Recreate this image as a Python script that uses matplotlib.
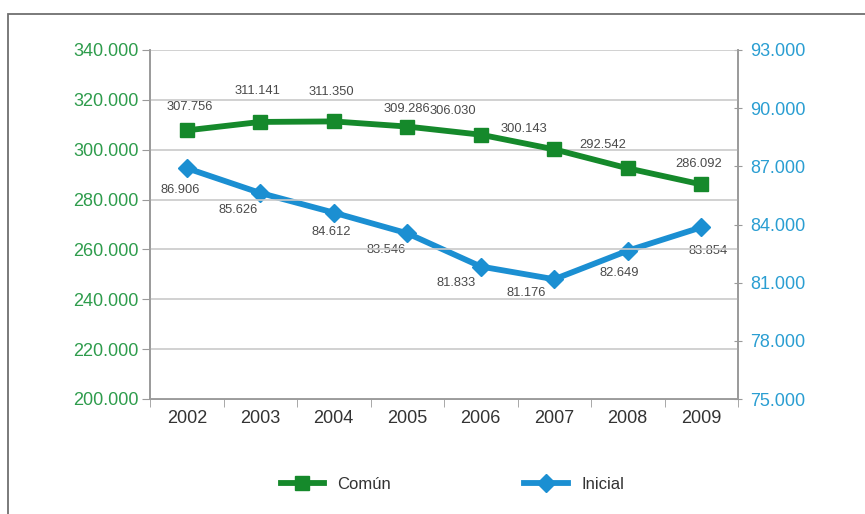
import matplotlib
matplotlib.use("Agg")
import matplotlib.pyplot as plt
from matplotlib.patches import Rectangle
from matplotlib.ticker import FuncFormatter, FixedLocator

plt.rcParams['font.family'] = ['Liberation Sans', 'DejaVu Sans']

years = ['2002', '2003', '2004', '2005', '2006', '2007', '2008', '2009']
comun = [307756, 311141, 311350, 309286, 306030, 300143, 292542, 286092]
inicial = [86906, 85626, 84612, 83546, 81833, 81176, 82649, 83854]

# label offsets (points) for each series
comun_off = [(2, 17), (-2, 22), (-2, 21), (0, 13), (-20, 17), (-22, 15), (-18, 17), (-2, 15)]
inicial_off = [(-5, -16), (-16, -12), (-2, -14), (-15, -12), (-18, -12), (-20, -10), (-6, -16), (5, -17)]

green = '#15892b'
green_txt = '#2e9c4c'
blue = '#1b8fd2'
blue_txt = '#2a9ed2'
gray = '#9a9a9a'


def fmt(v):
    return f'{v:,.0f}'.replace(',', '.')


fig = plt.figure(figsize=(8.65, 5.14), dpi=100)
fig.patches.append(Rectangle((8 / 865, -0.1), 1.2, 0.1 + 1 - 14 / 514,
                             transform=fig.transFigure, fill=False,
                             edgecolor='#6f6f6f', linewidth=1.3))

ax = fig.add_axes([150 / 865, 1 - 399 / 514, (738 - 150) / 865, (399 - 50) / 514])
ax2 = ax.twinx()

x = list(range(len(years)))
l1, = ax.plot(x, comun, color=green, linewidth=4.2, marker='s', markersize=9.5,
              label='Común', zorder=3)
l2, = ax2.plot(x, inicial, color=blue, linewidth=4.2, marker='D', markersize=9.5,
               label='Inicial', zorder=3)

for i, v in enumerate(comun):
    ax.annotate(fmt(v), (i, v), xytext=comun_off[i], textcoords='offset points',
                ha='center', va='center', fontsize=9.3, color='#4a4a4a')
for i, v in enumerate(inicial):
    ax2.annotate(fmt(v), (i, v), xytext=inicial_off[i], textcoords='offset points',
                 ha='center', va='center', fontsize=9.3, color='#4a4a4a')

ax.set_xlim(-0.5, len(years) - 0.5)
ax.set_ylim(200000, 340000)
ax.set_yticks(range(200000, 340001, 20000))
ax2.set_ylim(75000, 93000)
ax2.set_yticks(range(75000, 93001, 3000))

ax.yaxis.set_major_formatter(FuncFormatter(lambda v, p: fmt(v)))
ax2.yaxis.set_major_formatter(FuncFormatter(lambda v, p: fmt(v)))

ax.set_xticks(x)
ax.set_xticklabels(years)
ax.xaxis.set_minor_locator(FixedLocator([i + 0.5 for i in range(-1, len(years))]))
ax.tick_params(axis='x', which='major', length=0, labelsize=13, colors='#333333', pad=8)
ax.tick_params(axis='x', which='minor', length=6, color=gray, direction='out')
ax.tick_params(axis='y', length=6, color=gray, labelsize=13, labelcolor=green_txt, pad=2)
ax2.tick_params(axis='y', length=6, color=gray, direction='inout', labelsize=13,
                labelcolor=blue_txt, pad=6)

ax.grid(axis='y', color='#c9c9c9', linewidth=1.2)
ax.set_axisbelow(True)

for a in (ax, ax2):
    a.spines['top'].set_visible(False)
    for s in ('left', 'right', 'bottom'):
        a.spines[s].set_color(gray)
        a.spines[s].set_linewidth(1.2)

ax.set_zorder(ax2.get_zorder() + 1)
ax.patch.set_visible(False)

fig.legend(handles=[l1, l2], loc='center', bbox_to_anchor=(0.523, 0.058), ncol=2,
           frameon=False, fontsize=12, handlelength=2.6, columnspacing=8,
           labelcolor='#333333')

fig.savefig('out.png', dpi=100)
